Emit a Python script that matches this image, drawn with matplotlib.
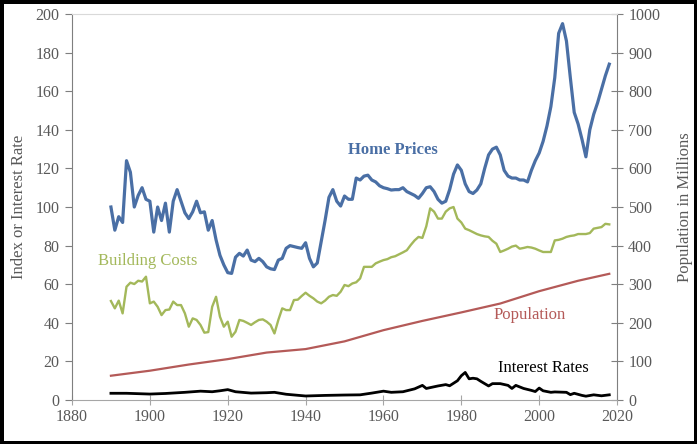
"""Shiller-style chart: real home prices, building costs, population, rates."""

import matplotlib

matplotlib.use("Agg")
import matplotlib.pyplot as plt

# --- data ----------------------------------------------------------------
home_years = list(range(1890, 2019))
home_prices = [
    100, 88, 95, 92, 124, 118, 100, 106, 110, 104,  # 1890s
    103, 87, 100, 93, 102, 87, 103, 109, 103, 97,  # 1900s
    94, 97.5, 103, 97, 97.5, 88, 93, 83, 75, 70,  # 1910s
    66, 65.6, 74, 76, 74.6, 77.7, 72.5, 71.7, 73.4, 71.7,  # 1920s
    69, 68, 67.6, 72.5, 73.4, 78.6, 80, 79.5, 79, 78.6,  # 1930s
    81.5, 73.4, 69, 71, 82, 93, 105, 109, 103, 100.5,  # 1940s
    105.7, 104, 104, 115, 114, 116, 116.5, 114, 113, 111,  # 1950s
    110, 109.5, 108.8, 109, 109, 110, 108, 107, 106, 104.5,  # 1960s
    107, 110, 110.5, 108, 104, 102, 103, 109, 117, 121.8,  # 1970s
    119, 112, 108, 107, 108.8, 112, 120, 127, 130, 131,  # 1980s
    127, 119, 116, 115, 115, 114, 114, 113, 119, 124,  # 1990s
    128, 134, 142, 152, 167, 190, 195, 186, 167, 149,  # 2000s
    143, 135, 126, 140, 148, 154, 161, 168, 174,  # 2010s
]

cost_years = [
    1890, 1891, 1892, 1893, 1894, 1895, 1896, 1897, 1898, 1899,
    1900, 1901, 1902, 1903, 1904, 1905, 1906, 1907, 1908, 1909,
    1910, 1911, 1912, 1913, 1914, 1915, 1916, 1917, 1918, 1919,
    1920, 1921, 1922, 1923, 1924, 1925, 1926, 1927, 1928, 1929,
    1930, 1931, 1932, 1933, 1934, 1935, 1936, 1937, 1938, 1939,
    1940, 1941, 1942, 1943, 1944, 1945, 1946, 1947, 1948, 1949,
    1950, 1951, 1952, 1953, 1954, 1955, 1956, 1957, 1958, 1959,
    1960, 1961, 1962, 1963, 1964, 1965, 1966, 1967, 1968, 1969,
    1970, 1971, 1972, 1973, 1974, 1975, 1976, 1977, 1978, 1979,
    1980, 1981, 1982, 1983, 1984, 1985, 1986, 1987, 1988, 1989,
    1990, 1991, 1992, 1993, 1994, 1995, 1996, 1997, 1998, 1999,
    2000, 2001, 2002, 2003, 2004, 2005, 2006, 2007, 2008, 2009,
    2010, 2011, 2012, 2013, 2014, 2015, 2016, 2017, 2018,
]
building_costs = [
    51.3, 47.5, 51.5, 44.9, 58.7, 60.8, 60.1, 61.8, 61.4, 63.9,
    50.1, 51, 48.3, 44, 46.6, 46.9, 51, 49.2, 49.2, 44.9,
    38, 42.3, 41.5, 38.9, 34.9, 35.2, 48.3, 53.5, 43.2, 38,
    40.6, 32.8, 35.4, 41.5, 41, 40, 38.9, 40.3, 41.5, 41.8,
    40.6, 38.9, 34.5, 41.5, 47.5, 46.6, 46.6, 51.8, 52, 53.9,
    55.6, 54, 52.7, 51, 50.1, 51.5, 53.5, 54.4, 54, 56.1,
    59.6, 59, 60.4, 61, 63, 69, 69, 69, 70.8, 71.7,
    72.5, 73, 74, 74.5, 75.5, 76.5, 77.6, 80.3, 82.7, 84.5,
    84, 90, 99.3, 97.6, 94, 94, 97.6, 99.3, 100, 94,
    92, 88.8, 88, 87, 86, 85.3, 84.8, 84.5, 82.5, 81,
    76.7, 77.5, 78.4, 79.5, 80, 78.4, 78.8, 79.3, 79, 78.4,
    77.5, 76.7, 76.7, 76.7, 82.7, 83, 83.6, 84.5, 85, 85.3,
    86, 86, 86, 86.5, 88.8, 89.2, 89.6, 91.3, 91,
]

pop_years = [1890, 1900, 1910, 1920, 1930, 1940, 1950, 1960, 1970, 1980,
             1990, 2000, 2010, 2018]
population = [63, 76, 92, 106, 123, 132, 152, 181, 205, 227, 250, 282,
              309, 327]

rate_years = [
    1890, 1894, 1900, 1904, 1909, 1913, 1916, 1918, 1920, 1922, 1926,
    1930, 1932, 1935, 1940, 1945, 1950, 1954, 1957, 1960, 1962, 1965,
    1968, 1970, 1971, 1974, 1976, 1977, 1979, 1980, 1981, 1982, 1983,
    1984, 1985, 1987, 1988, 1990, 1992, 1993, 1994, 1996, 1998, 1999,
    2000, 2001, 2003, 2004, 2007, 2008, 2009, 2011, 2012, 2014, 2016,
    2018,
]
interest_rates = [
    3.5, 3.5, 3.1, 3.4, 4.0, 4.6, 4.3, 4.8, 5.4, 4.3, 3.6,
    3.8, 4.0, 3.0, 2.1, 2.4, 2.6, 2.7, 3.6, 4.6, 4.0, 4.3,
    5.8, 7.6, 6.0, 7.3, 8.0, 7.4, 10.0, 12.6, 14.3, 11.0, 11.3,
    11.0, 9.7, 7.3, 8.5, 8.5, 7.6, 6.0, 7.6, 6.0, 5.0, 4.4,
    6.2, 4.8, 4.0, 4.2, 4.0, 2.8, 3.5, 2.4, 2.0, 2.7, 2.2,
    2.7,
]

BLUE = "#4a6fa5"
GREEN = "#a3b85a"
RED = "#b45a58"
GRAY = "#595959"

plt.rcParams["font.family"] = ["Liberation Serif", "DejaVu Serif"]

fig = plt.figure(figsize=(6.97, 4.44), dpi=100)
fig.patch.set_edgecolor("black")
fig.patch.set_linewidth(5)
ax = fig.add_axes([0.1033, 0.099, 0.782, 0.8695])
ax2 = ax.twinx()

ax.plot(home_years, home_prices, color=BLUE, lw=2.3, solid_joinstyle="round")
ax.plot(cost_years, building_costs, color=GREEN, lw=1.7)
ax.plot(rate_years, interest_rates, color="black", lw=2.0)
ax2.plot(pop_years, population, color=RED, lw=1.6)

ax.set_xlim(1880, 2020)
ax.set_ylim(0, 200)
ax2.set_ylim(0, 1000)
ax.set_xticks(range(1880, 2021, 20))
ax.set_yticks(range(0, 201, 20))
ax2.set_yticks(range(0, 1001, 100))

for spine in ("left", "right", "bottom", "top"):
    ax.spines[spine].set_visible(False)
ax2.spines["top"].set_color("#d9d9d9")
ax2.spines["left"].set_color("#7f7f7f")
ax2.spines["right"].set_color("#7f7f7f")
ax2.spines["bottom"].set_color("#a6a6a6")

ax.tick_params(axis="y", direction="out", length=5, color="#7f7f7f",
               labelsize=11.5, labelcolor=GRAY, pad=4)
ax.tick_params(axis="x", direction="inout", length=7, color="#a6a6a6",
               labelsize=11.5, labelcolor=GRAY, pad=3)
ax2.tick_params(axis="y", direction="inout", length=8, color="#7f7f7f",
                labelsize=11.5, labelcolor=GRAY, pad=4)

ax.set_ylabel("Index or Interest Rate", color=GRAY, fontsize=12, labelpad=6)
ax2.set_ylabel("Population in Millions", color=GRAY, fontsize=12, labelpad=12)

ax.text(1962.5, 129.5, "Home Prices", color=BLUE, fontsize=12,
        fontweight="bold", ha="center", va="center")
ax.text(1899.5, 72, "Building Costs", color=GREEN, fontsize=12,
        ha="center", va="center")
ax.text(1997.6, 44, "Population", color=RED, fontsize=12,
        ha="center", va="center")
ax.text(2001, 16.6, "Interest Rates", color="black", fontsize=12,
        ha="center", va="center")

fig.savefig("out.png", dpi=100, edgecolor=fig.get_edgecolor())
